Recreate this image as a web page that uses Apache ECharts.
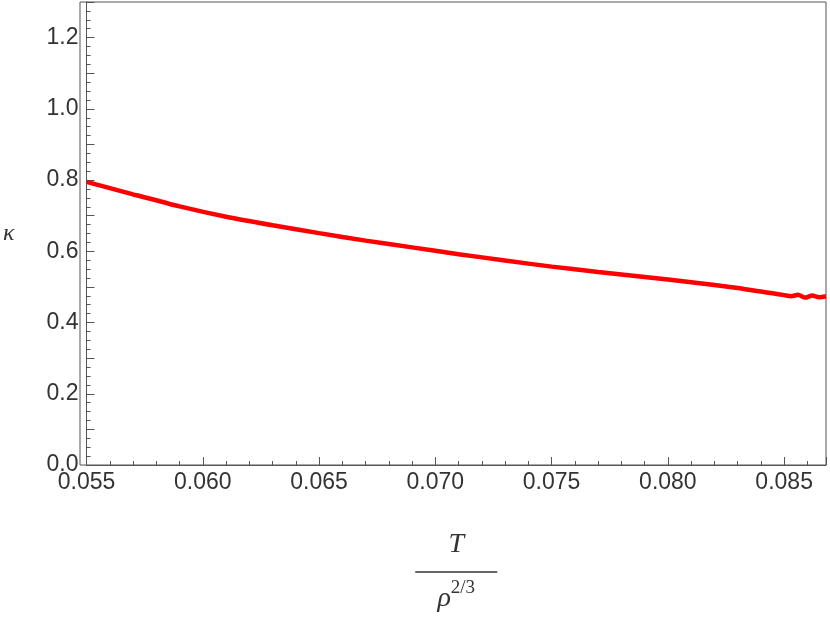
<!DOCTYPE html>
<html><head><meta charset="utf-8">
<script src="https://cdn.jsdelivr.net/npm/echarts@6/dist/echarts.min.js"></script>
<style>body{margin:0}#c{width:830px;height:620px}</style></head>
<body><div id="c"></div>
<script>
const xVals=[0.055,0.057,0.059,0.061,0.063,0.065,0.067,0.069,0.071,0.073,0.075,0.077,0.079,0.081,0.083,0.084,0.0845,0.085,0.0853,0.0856,0.0859,0.0862,0.0865,0.0868];
const kappa=[0.795,0.760,0.726,0.697,0.673,0.651,0.630,0.611,0.592,0.574,0.557,0.542,0.528,0.513,0.497,0.487,0.482,0.477,0.474,0.478,0.470,0.476,0.471,0.474];
const xTicks=[0.055,0.060,0.065,0.070,0.075,0.080,0.085];
const yTicks=[0.0,0.2,0.4,0.6,0.8,1.0,1.2];
const chart=echarts.init(document.getElementById('c'));
const f="'Liberation Sans', Arial, sans-serif";
const fs="'Liberation Serif', 'Times New Roman', serif";
chart.setOption({
 animation:false,
 grid:{left:80,right:4,top:2,bottom:155},
 xAxis:{type:'value',min:0.055,max:0.0868,interval:0.005,
  axisLine:{lineStyle:{color:'#555'}},axisTick:{inside:true,length:8,lineStyle:{color:'#555'}},
  minorTick:{show:true,splitNumber:5,length:4,lineStyle:{color:'#555'}},
  splitLine:{show:false},
  axisLabel:{fontFamily:f,fontSize:23,color:'#333',margin:6,
   formatter:v=>xTicks.some(t=>Math.abs(t-v)<1e-9)?v.toFixed(3):''},
  name:'{t|T}\n{l|}\n{r|ρ}{s|2/3}',nameLocation:'middle',nameGap:60,
  nameTextStyle:{fontFamily:fs,color:'#333',rich:{t:{fontFamily:fs,fontSize:28,fontStyle:'italic',align:'center',lineHeight:40},
   l:{backgroundColor:'#333',height:1.5,width:82,lineHeight:14},
   r:{fontFamily:fs,fontSize:28,fontStyle:'italic',lineHeight:40},s:{fontFamily:fs,fontSize:19,verticalAlign:'top',lineHeight:30}}}},
 yAxis:{type:'value',min:0,max:1.3,interval:0.1,
  axisLine:{show:true,lineStyle:{color:'#555'}},axisTick:{inside:true,length:8,lineStyle:{color:'#555'}},
  minorTick:{show:true,splitNumber:4,length:4,lineStyle:{color:'#555'}},
  splitLine:{show:false},
  axisLabel:{fontFamily:f,fontSize:23,color:'#333',margin:8,
   formatter:v=>yTicks.some(t=>Math.abs(t-v)<1e-9)?v.toFixed(1):''},
  name:'κ',nameLocation:'middle',nameGap:72,nameRotate:0,nameTextStyle:{fontFamily:fs,fontSize:24,fontStyle:'italic',color:'#333'}},
 graphic:[{type:'rect',shape:{x:80,y:2,width:746,height:463},style:{fill:'none',stroke:'#555',lineWidth:1}}],
 series:[{type:'line',data:xVals.map((x,i)=>[x,kappa[i]]),smooth:0.2,symbol:'none',lineStyle:{color:'#ff0000',width:4.5}}]
});
</script></body></html>
